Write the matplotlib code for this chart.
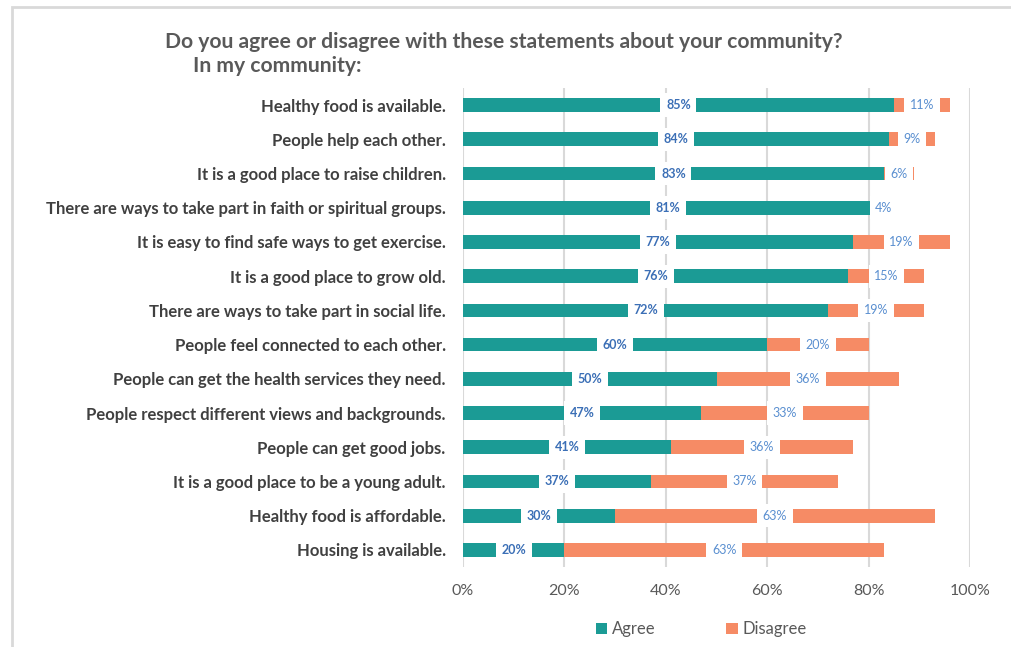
import matplotlib.pyplot as plt
from matplotlib.patches import Rectangle
import numpy as np

plt.rcParams['font.family'] = ['Lato', 'DejaVu Sans']

statements = ['Healthy food is available.',
              'People help each other.',
              'It is a good place to raise children.',
              'There are ways to take part in faith or spiritual groups.',
              'It is easy to find safe ways to get exercise.',
              'It is a good place to grow old.',
              'There are ways to take part in social life.',
              'People feel connected to each other.',
              'People can get the health services they need.',
              'People respect different views and backgrounds.',
              'People can get good jobs.',
              'It is a good place to be a young adult.',
              'Healthy food is affordable.',
              'Housing is available.']
agree = [85, 84, 83, 81, 77, 76, 72, 60, 50, 47, 41, 37, 30, 20]
disagree = [11, 9, 6, 4, 19, 15, 19, 20, 36, 33, 36, 37, 63, 63]
xticks = [0, 20, 40, 60, 80, 100]

teal = '#1b9b95'
orange = '#f68b65'

fig = plt.figure(figsize=(10.11, 6.47), dpi=100)
ax = fig.add_axes([463/1011, 1-567/647, (970-463)/1011, (567-88)/647])

y = np.arange(len(statements))
ax.barh(y, agree, height=0.4, color=teal, label='Agree', zorder=2)
ax.barh(y, disagree, left=agree, height=0.4, color=orange, label='Disagree', zorder=2)

# value labels sit in the middle of each segment on a white box
for i in range(len(statements)):
    ax.text(agree[i]/2, y[i], f'{agree[i]}%', ha='center', va='center',
            fontsize=9, fontweight='bold', color='#3b6fb6', zorder=3,
            bbox=dict(boxstyle='square,pad=0.45', fc='white', ec='none'))
    ax.text(agree[i] + disagree[i]/2, y[i], f'{disagree[i]}%', ha='center', va='center',
            fontsize=9, color='#5a8fd0', zorder=3,
            bbox=dict(boxstyle='square,pad=0.45', fc='white', ec='none'))

ax.set_xlim(0, 100)
ax.set_ylim(len(statements) - 0.5, -0.5)
ax.set_xticks(xticks)
ax.set_xticklabels([f'{t}%' for t in xticks], fontsize=11.5, color='#595959')
ax.set_yticks(y)
ax.set_yticklabels(statements, fontsize=12, fontweight='bold', color='#404040')
ax.tick_params(axis='both', length=0)
ax.tick_params(axis='x', pad=12)
ax.tick_params(axis='y', pad=12.5)
ax.grid(axis='x', color='#d9d9d9', linewidth=1.5, zorder=0)
for s in ax.spines.values():
    s.set_visible(False)

fig.text(165/1011, 1-42/647, 'Do you agree or disagree with these statements about your community?',
         fontsize=15.2, fontweight='bold', color='#595959', va='center')
fig.text(193/1011, 1-66/647, 'In my community:',
         fontsize=15.2, fontweight='bold', color='#595959', va='center')

ax.legend(loc='center', bbox_to_anchor=(0.47, -0.13), ncol=2, frameon=False,
          fontsize=12, labelcolor='#595959', handlelength=0.7, handleheight=0.7,
          handletextpad=0.3, columnspacing=4.2)

# light gray chart frame
fig.patches.append(Rectangle((12/1011, -0.1), 1.2, 1-7/647+0.1, transform=fig.transFigure,
                             fill=False, ec='#d9d9d9', lw=2))

plt.savefig('out.png', dpi=100)
